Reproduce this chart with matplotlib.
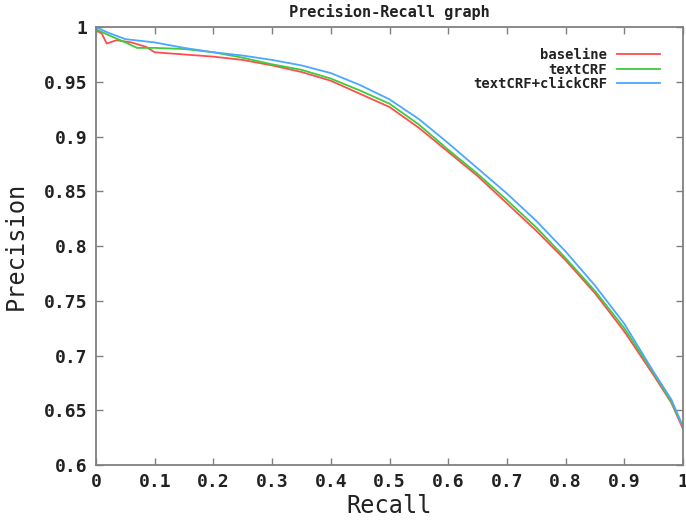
import matplotlib
matplotlib.use("Agg")
import matplotlib.pyplot as plt

# Data
recall_base = [0.0, 0.01, 0.018, 0.035, 0.06, 0.085, 0.1, 0.15, 0.2, 0.25, 0.3, 0.35, 0.4, 0.45,
               0.5, 0.55, 0.6, 0.65, 0.7, 0.75, 0.8, 0.85, 0.9, 0.95, 0.98, 1.0]
prec_base = [0.997, 0.994, 0.985, 0.988, 0.986, 0.982, 0.977, 0.975, 0.973, 0.970, 0.965, 0.959,
             0.951, 0.939, 0.927, 0.908, 0.886, 0.864, 0.839, 0.814, 0.787, 0.757, 0.722, 0.682,
             0.657, 0.633]

recall_text = [0.0, 0.02, 0.05, 0.07, 0.1, 0.15, 0.2, 0.25, 0.3, 0.35, 0.4, 0.45, 0.5, 0.55,
               0.6, 0.65, 0.7, 0.75, 0.8, 0.85, 0.9, 0.95, 0.98, 1.0]
prec_text = [0.998, 0.993, 0.986, 0.981, 0.981, 0.980, 0.977, 0.972, 0.966, 0.961, 0.953, 0.942,
             0.930, 0.911, 0.888, 0.866, 0.842, 0.817, 0.789, 0.759, 0.725, 0.684, 0.658, 0.635]

recall_click = [0.0, 0.02, 0.05, 0.1, 0.15, 0.2, 0.25, 0.3, 0.35, 0.4, 0.45, 0.5, 0.55, 0.6,
                0.65, 0.7, 0.75, 0.8, 0.85, 0.9, 0.95, 0.98, 1.0]
prec_click = [1.0, 0.995, 0.989, 0.986, 0.981, 0.977, 0.974, 0.970, 0.965, 0.958, 0.947, 0.934,
              0.916, 0.894, 0.871, 0.848, 0.823, 0.795, 0.764, 0.729, 0.685, 0.660, 0.635]

labels = ["baseline", "textCRF", "textCRF+clickCRF"]
colors = ["#ff4d4d", "#3ccc3c", "#4da6ff"]

xticks = [0, 0.1, 0.2, 0.3, 0.4, 0.5, 0.6, 0.7, 0.8, 0.9, 1]
xticklabels = ["0", "0.1", "0.2", "0.3", "0.4", "0.5", "0.6", "0.7", "0.8", "0.9", "1"]
yticks = [0.6, 0.65, 0.7, 0.75, 0.8, 0.85, 0.9, 0.95, 1]
yticklabels = ["0.6", "0.65", "0.7", "0.75", "0.8", "0.85", "0.9", "0.95", "1"]

mono = "DejaVu Sans Mono"
fig = plt.figure(figsize=(6.86, 5.21), dpi=100)
ax = fig.add_axes([0.140, 0.1075, 0.8556, 0.8405])

for r, p, lab, c in zip([recall_base, recall_text, recall_click],
                        [prec_base, prec_text, prec_click], labels, colors):
    ax.plot(r, p, color=c, lw=1.3, label=lab)

ax.set_xlim(0, 1)
ax.set_ylim(0.6, 1)
ax.set_xticks(xticks)
ax.set_xticklabels(xticklabels, family=mono, fontsize=13, fontweight="bold", color="#222222")
ax.set_yticks(yticks)
ax.set_yticklabels(yticklabels, family=mono, fontsize=13, fontweight="bold", color="#222222")
ax.tick_params(direction="in", length=5, width=1, color="#808080", top=True, right=True, pad=6)
for s in ax.spines.values():
    s.set_color("#808080")
    s.set_linewidth(1.3)

ax.set_xlabel("Recall", family=mono, fontsize=17, color="#222222", labelpad=2)
ax.set_ylabel("Precision", family=mono, fontsize=17, color="#222222", labelpad=12)
ax.set_title("Precision-Recall graph", family=mono, fontsize=11, fontweight="bold",
             color="#222222", pad=7)

leg = ax.legend(loc="upper right", bbox_to_anchor=(0.982, 0.98), frameon=False, markerfirst=False,
                handlelength=3.1, handletextpad=0.7, labelspacing=0.02,
                prop={"family": mono, "size": 10, "weight": "bold"})
for t in leg.get_texts():
    t.set_ha("right")
    t.set_color("#222222")

fig.savefig("out.png", dpi=100)
